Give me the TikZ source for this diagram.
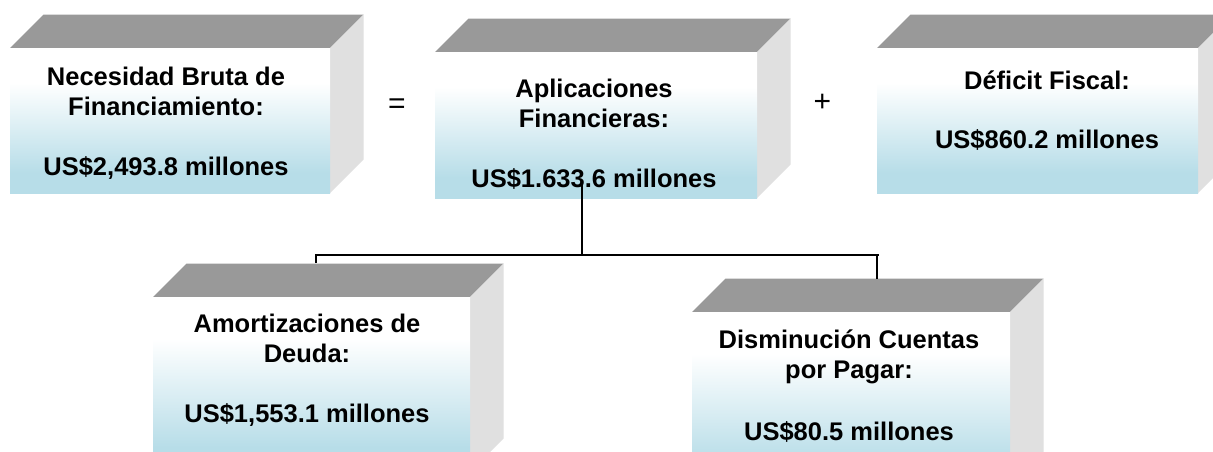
\documentclass[tikz,border=0pt]{standalone}
\usepackage{fontspec}
\setmainfont{Liberation Sans}
\definecolor{topgray}{RGB}{153,153,153}
\definecolor{sidegray}{RGB}{224,224,224}
\definecolor{lblue}{RGB}{183,221,232}
\pgfdeclareverticalshading{frontshade}{100bp}{color(0bp)=(lblue); color(32bp)=(lblue); color(63bp)=(white); color(100bp)=(white)}
\newcommand\boxthreed[6]{%
  \fill[topgray] (#2,#3) -- ++(#6,-#6) -- (#4+#6,#3-#6) -- (#4,#3) -- cycle;
  \fill[sidegray] (#4,#3) -- (#4+#6,#3-#6) -- (#4+#6,#5-#6) -- (#4,#5) -- cycle;
  \path[shading=frontshade] (#2,#3) rectangle (#4,#5);
  \coordinate (#1) at ({(#2+#4)/2},{(#3+#5)/2});
}
\begin{document}
\begin{tikzpicture}[x=1pt,y=-1pt,
  lbl/.style={anchor=base,inner sep=0pt,font=\fontsize{25.5}{30}\selectfont\bfseries},
  opr/.style={anchor=base,inner sep=0pt,font=\fontsize{30}{34}\selectfont},
  conn/.style={draw=black,line width=1.4pt}]
\useasboundingbox (0,0) rectangle (1213,451);
\clip (0,0) rectangle (1213,451);
\fill[white] (0,0) rectangle (1213,451);
% boxes
\boxthreed{b1}{10}{48}{330}{193}{33.5}
\boxthreed{b2}{435}{52}{757}{198}{33.5}
\boxthreed{b3}{877}{48}{1198}{193}{33.5}
\boxthreed{b4}{153}{297}{470}{472}{33.5}
\boxthreed{b5}{692}{312}{1010}{487}{33.5}
% texts
\node[lbl] (t1a) at (166,85) {Necesidad Bruta de};
\node[lbl] (t1b) at (166,115) {Financiamiento:};
\node[lbl] (t1c) at (166,175) {US\$2,493.8 millones};
\node[lbl] (t2a) at (594,97) {Aplicaciones};
\node[lbl] (t2b) at (594,127) {Financieras:};
\node[lbl] (t2c) at (594,187) {US\$1.633.6 millones};
\node[lbl] (t3a) at (1047,89.5) {Déficit Fiscal:};
\node[lbl] (t3b) at (1047,148.5) {US\$860.2 millones};
\node[lbl] (t4a) at (307,332) {Amortizaciones de};
\node[lbl] (t4b) at (307,362) {Deuda:};
\node[lbl] (t4c) at (307,422) {US\$1,553.1 millones};
\node[lbl] (t5a) at (849,348) {Disminución Cuentas};
\node[lbl] (t5b) at (849,378) {por Pagar:};
\node[lbl] (t5c) at (849,440) {US\$80.5 millones};
\node[opr] (eq) at (397,113) {=};
\node[opr] (pl) at (822.5,111.5) {+};
% connectors
\coordinate (s) at (582,182);
\coordinate (hub) at (582,255);
\coordinate (b4t) at (316,263);
\coordinate (b5t) at (877,279);
\coordinate (hr) at (879,255);
\draw[conn] (s) -- (hub);
\draw[conn] (b4t) |- (hr);
\draw[conn] (hub -| b5t) -- (b5t);
\end{tikzpicture}
\end{document}
